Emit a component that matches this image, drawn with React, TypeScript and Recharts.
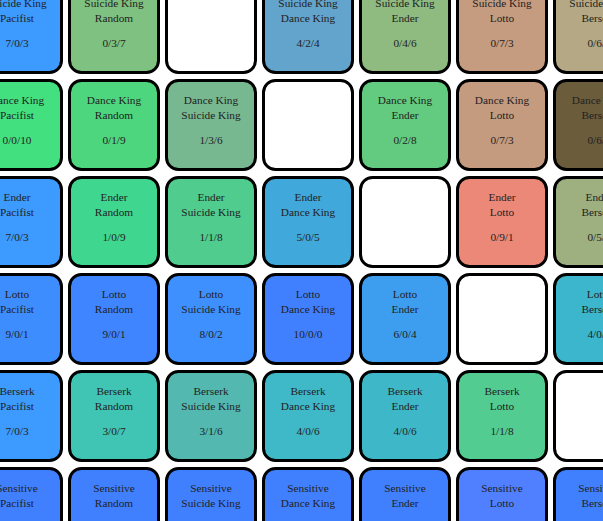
import { ScatterChart, Scatter, XAxis, YAxis } from "recharts";

// matchup grid: row strategy vs column opponent, score = win/draw/loss
const rowNames = ["Suicide King", "Dance King", "Ender", "Lotto", "Berserk", "Sensitive"];
const colNames = ["Pacifist", "Random", "Suicide King", "Dance King", "Ender", "Lotto", "Berserk"];

const suicideKingScores = ["7/0/3", "0/3/7", "", "4/2/4", "0/4/6", "0/7/3", "0/6/4"];
const danceKingScores = ["0/0/10", "0/1/9", "1/3/6", "", "0/2/8", "0/7/3", "0/6/4"];
const enderScores = ["7/0/3", "1/0/9", "1/1/8", "5/0/5", "", "0/9/1", "0/5/5"];
const lottoScores = ["9/0/1", "9/0/1", "8/0/2", "10/0/0", "6/0/4", "", "4/0/6"];
const berserkScores = ["7/0/3", "3/0/7", "3/1/6", "4/0/6", "4/0/6", "1/1/8", ""];
const sensitiveScores = ["10/0/0", "10/0/0", "10/0/0", "10/0/0", "10/0/0", "9/1/0", "10/0/0"];

const scoreRows = [suicideKingScores, danceKingScores, enderScores, lottoScores, berserkScores, sensitiveScores];

// fill colours per cell (white = same strategy)
const palette = [
  ["#3d9aff", "#7fc180", "#ffffff", "#63a4cc", "#8fba80", "#c59c80", "#b5a985"],
  ["#42e07f", "#4dd67e", "#78b890", "#ffffff", "#63cb7f", "#c59b80", "#6b5c3c"],
  ["#3d9aff", "#3fd690", "#4fcc8e", "#40a8db", "#ffffff", "#ec8878", "#9eaf80"],
  ["#3e8dff", "#3f85ff", "#3e90ff", "#4080ff", "#3d9ef0", "#ffffff", "#3bb6cc"],
  ["#3d9aff", "#40c4b4", "#52b8b0", "#3fb8c8", "#3eb8c8", "#52cc90", "#ffffff"],
  ["#4080ff", "#4080ff", "#4080ff", "#4080ff", "#4080ff", "#5080ff", "#4080ff"],
];

const cells = rowNames.flatMap((row, r) =>
  colNames.map((col, c) => ({
    x: c,
    y: r,
    row,
    col,
    score: scoreRows[r][c],
    fill: palette[r][c],
  }))
);

const W = 603;
const H = 521;
const PITCH = 97;
const BOX = 89;

const CellShape = (props: any) => {
  const { cx, cy, payload } = props;
  const empty = !payload.score;
  return (
    <g>
      <rect
        x={cx - BOX / 2}
        y={cy - BOX / 2}
        width={BOX}
        height={BOX}
        rx={12}
        ry={12}
        fill={payload.fill}
        stroke="#000"
        strokeWidth={3}
      />
      {!empty && (
        <g fontFamily="'Liberation Serif', 'Times New Roman', serif" fontSize={11.3} fill="#222" textAnchor="middle">
          <text x={cx} y={cy - 21}>{payload.row}</text>
          <text x={cx} y={cy - 6}>{payload.col}</text>
          <text x={cx} y={cy + 19}>{payload.score}</text>
        </g>
      )}
    </g>
  );
};

export default function App() {
  const x0 = -17 / PITCH;
  const y0 = -28 / PITCH;
  return (
    <div style={{ position: "fixed", left: 0, top: 0, width: W, height: H, overflow: "hidden", background: "#fff" }}>
      <ScatterChart width={W} height={H} margin={{ top: 0, right: 0, bottom: 0, left: 0 }}>
        <XAxis type="number" dataKey="x" domain={[x0, x0 + W / PITCH]} hide />
        <YAxis type="number" dataKey="y" domain={[y0, y0 + H / PITCH]} reversed hide />
        <Scatter data={cells} shape={<CellShape />} isAnimationActive={false} />
      </ScatterChart>
    </div>
  );
}
